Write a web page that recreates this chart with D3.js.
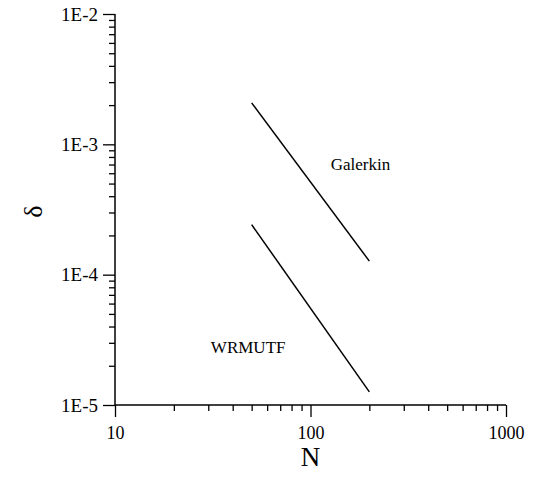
<!DOCTYPE html>
<html>
<head>
<meta charset="utf-8">
<script src="https://cdn.jsdelivr.net/npm/d3@7"></script>
<style>
  html, body { margin: 0; padding: 0; background: #fff; }
  svg { display: block; }
  text { font-family: "Liberation Serif", "Times New Roman", serif; fill: #000; }
</style>
</head>
<body>
<svg id="chart" width="533" height="477"></svg>
<script>
// ---- data ----
const seriesNames = ["Galerkin", "WRMUTF"];
const galerkinN = [50, 200];
const galerkinDelta = [2.08e-3, 1.27e-4];
const wrmutfN = [50, 200];
const wrmutfDelta = [2.42e-4, 1.26e-5];
const xTickValues = [10, 100, 1000];
const xTickLabels = ["10", "100", "1000"];
const yTickValues = [1e-5, 1e-4, 1e-3, 1e-2];
const yTickLabels = ["1E-5", "1E-4", "1E-3", "1E-2"];
const labelPositions = [[180, 6.3e-4], [48, 2.5e-5]]; // data coords for series labels

// ---- layout ----
const svg = d3.select("#chart");
const mLeft = 115, mRight = 506, mTop = 14, mBottom = 405;

const x = d3.scaleLog().domain([10, 1000]).range([mLeft, mRight]);
const y = d3.scaleLog().domain([1e-5, 1e-2]).range([mBottom, mTop]);

// minor ticks
const xMinor = [];
for (let d = 10; d < 1000; d *= 10) for (let k = 2; k <= 9; k++) xMinor.push(d * k);
const yMinor = [];
for (let d = 1e-5; d < 1e-2 * 0.999; d *= 10) for (let k = 2; k <= 9; k++) yMinor.push(d * k);

const g = svg.append("g");

// X axis
const xAxis = g.append("g").attr("transform", `translate(0,${mBottom})`);
xAxis.call(d3.axisBottom(x).tickValues(xMinor).tickSize(6).tickFormat(""));
xAxis.call(g2 => g2.selectAll(".domain").remove());
const xAxisMajor = g.append("g").attr("transform", `translate(0,${mBottom})`)
  .call(d3.axisBottom(x).tickValues(xTickValues).tickSize(12).tickPadding(9)
    .tickFormat((d, i) => xTickLabels[i]));
xAxisMajor.select(".domain").remove();
xAxisMajor.selectAll("text").attr("font-size", 18).attr("font-family", "Liberation Serif");

// Y axis
const yAxis = g.append("g").attr("transform", `translate(${mLeft},0)`);
yAxis.call(d3.axisLeft(y).tickValues(yMinor).tickSize(6).tickFormat(""));
yAxis.call(g2 => g2.selectAll(".domain").remove());
const yAxisMajor = g.append("g").attr("transform", `translate(${mLeft},0)`)
  .call(d3.axisLeft(y).tickValues(yTickValues).tickSize(12).tickPadding(5)
    .tickFormat((d, i) => yTickLabels[i]));
yAxisMajor.select(".domain").remove();
yAxisMajor.selectAll("text").attr("font-size", 19).attr("font-family", "Liberation Serif");

svg.selectAll(".tick line").attr("stroke", "#000").attr("stroke-width", 1.3);

// axis lines
g.append("line").attr("x1", mLeft).attr("x2", mRight).attr("y1", mBottom).attr("y2", mBottom)
  .attr("stroke", "#000").attr("stroke-width", 1.5);
g.append("line").attr("x1", mLeft).attr("x2", mLeft).attr("y1", mTop).attr("y2", mBottom)
  .attr("stroke", "#000").attr("stroke-width", 1.5);

// series lines
const line = d3.line().x(d => x(d[0])).y(d => y(d[1]));
const series = [
  galerkinN.map((n, i) => [n, galerkinDelta[i]]),
  wrmutfN.map((n, i) => [n, wrmutfDelta[i]])
];
series.forEach(s => {
  g.append("path").datum(s).attr("d", line)
    .attr("fill", "none").attr("stroke", "#000").attr("stroke-width", 1.5);
});

// series labels
seriesNames.forEach((name, i) => {
  g.append("text").attr("x", x(labelPositions[i][0])).attr("y", y(labelPositions[i][1]))
    .attr("font-size", 17).attr("text-anchor", "middle").text(name);
});

// axis titles
g.append("text").attr("x", (mLeft + mRight) / 2).attr("y", 466)
  .attr("font-size", 27).attr("text-anchor", "middle").text("N");
g.append("text").attr("transform", `translate(42,${(mTop + mBottom) / 2 + 2}) rotate(-90)`)
  .attr("font-size", 26).attr("text-anchor", "middle").text("δ");
</script>
</body>
</html>
